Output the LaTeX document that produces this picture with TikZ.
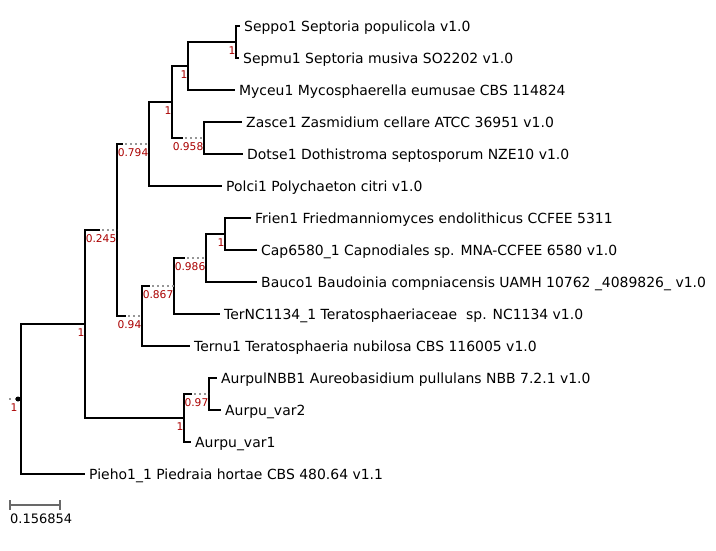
\documentclass[tikz,border=0pt]{standalone}
\usepackage{fontspec}
\setmainfont{DejaVu Sans}
\definecolor{white}{RGB}{255,255,255}
\definecolor{black}{RGB}{0,0,0}
\definecolor{support_red}{RGB}{170,0,0}
\definecolor{guide_gray}{RGB}{150,150,150}
\definecolor{bar_gray}{RGB}{105,105,105}

\begin{document}
\begin{tikzpicture}[x=1pt,y=-1pt,
	leaf/.style={anchor=west,inner xsep=4pt,inner ysep=0pt,text height=10.1pt,text depth=0pt,font=\fontsize{13.95}{16}\selectfont},
	supp/.style={anchor=north east,inner sep=0pt,text height=7.8pt,text depth=0pt,yshift=-4pt,xshift=-0.5pt,text=support_red,font=\fontsize{10.67}{12}\selectfont},
	branch/.style={black,line width=2pt},
	guide/.style={guide_gray,line width=2pt,dash pattern=on 2pt off 3pt,dash phase=3pt},
	scalebar/.style={bar_gray,line width=1.5pt}]
	\useasboundingbox[fill=white] (0,0) rectangle (716,550);

	% inner nodes
	\coordinate (r) at (21,399);
	\coordinate (rdot) at (18,399);
	\coordinate (rtip) at (9,399);
	\coordinate (nA) at (85,324);
	\coordinate (nB) at (117,230);
	\coordinate (nC) at (149,144);
	\coordinate (nD) at (172,102);
	\coordinate (nE) at (188,66);
	\coordinate (nF) at (236,42);
	\coordinate (nG) at (204,138);
	\coordinate (nH) at (142,316);
	\coordinate (nI) at (174,286);
	\coordinate (nJ) at (206,258);
	\coordinate (nK) at (225,234);
	\coordinate (nL) at (184,418);
	\coordinate (nM) at (209,394);

	% where the branch stops and the guide starts
	\coordinate (bB) at (100,230);
	\coordinate (bC) at (123,144);
	\coordinate (bG) at (183,138);
	\coordinate (bH) at (126,316);
	\coordinate (bI) at (150,286);
	\coordinate (bJ) at (185,258);
	\coordinate (bM) at (192,394);

	% leaves
	\node[leaf] (seppo) at (240,26) {Seppo1 Septoria populicola v1.0};
	\node[leaf] (sepmu) at (239,58) {Sepmu1 Septoria musiva SO2202 v1.0};
	\node[leaf] (myceu) at (235,90) {Myceu1 Mycosphaerella eumusae CBS 114824};
	\node[leaf] (zasce) at (242,122) {Zasce1 Zasmidium cellare ATCC 36951 v1.0};
	\node[leaf] (dotse) at (243,154) {Dotse1 Dothistroma septosporum NZE10 v1.0};
	\node[leaf] (polci) at (222,186) {Polci1 Polychaeton citri v1.0};
	\node[leaf] (frien) at (251,218) {Frien1 Friedmanniomyces endolithicus CCFEE 5311};
	\node[leaf] (cap) at (257,250) {Cap6580\_1 Capnodiales sp. MNA-CCFEE 6580 v1.0};
	\node[leaf] (bauco) at (257,282) {Bauco1 Baudoinia compniacensis UAMH 10762 \_4089826\_ v1.0};
	\node[leaf] (ternc) at (220,314) {TerNC1134\_1 Teratosphaeriaceae\ \ sp. NC1134 v1.0};
	\node[leaf] (ternu) at (190,346) {Ternu1 Teratosphaeria nubilosa CBS 116005 v1.0};
	\node[leaf] (aurpul) at (217,378) {AurpulNBB1 Aureobasidium pullulans NBB 7.2.1 v1.0};
	\node[leaf] (aurv2) at (221,410) {Aurpu\_var2};
	\node[leaf] (aurv1) at (191,442) {Aurpu\_var1};
	\node[leaf] (pieho) at (85,474) {Pieho1\_1 Piedraia hortae CBS 480.64 v1.1};

	\foreach \p/\c in {r/nA,r/pieho,nA/bB,nA/nL,nB/bC,nB/bH,nC/nD,nC/polci,nD/nE,nD/bG,nE/nF,nE/myceu,nF/seppo,nF/sepmu,nG/zasce,nG/dotse,nH/bI,nH/ternu,nI/bJ,nI/ternc,nJ/nK,nJ/bauco,nK/frien,nK/cap,nL/bM,nL/aurv1,nM/aurpul,nM/aurv2}
		\draw[branch] (\p) |- (\c);
	\foreach \x/\y in {bB/nB,bC/nC,bG/nG,bH/nH,bI/nI,bJ/nJ,bM/nM}
		\draw[guide] (\x) -- (\y);
	\draw[guide,dash pattern=on 2pt off 4pt,dash phase=0pt] (rtip) -- (rdot);
	\fill[black] (rdot) circle (2.5pt);

	% support values
	\node[supp] (s0) at (rdot) {1};
	\node[supp] (sA) at (nA) {1};
	\node[supp] (sB) at (nB) {0.245};
	\node[supp] (sC) at (nC) {0.794};
	\node[supp] (sD) at (nD) {1};
	\node[supp] (sE) at (nE) {1};
	\node[supp] (sF) at (nF) {1};
	\node[supp] (sG) at (nG) {0.958};
	\node[supp] (sH) at (nH) {0.94};
	\node[supp] (sI) at (nI) {0.867};
	\node[supp] (sJ) at (nJ) {0.986};
	\node[supp] (sK) at (nK) {1};
	\node[supp] (sL) at (nL) {1};
	\node[supp] (sM) at (nM) {0.97};

	% scale
	\coordinate (sbl) at (10,505);
	\coordinate (sbr) at (60,505);
	\draw[scalebar] (sbl) -- (sbr);
	\draw[scalebar] ([yshift=5pt]sbl) -- ([yshift=-5pt]sbl);
	\draw[scalebar] ([yshift=5pt]sbr) -- ([yshift=-5pt]sbr);
	\node[anchor=west,inner sep=0pt,text height=9.5pt,text depth=0pt,font=\fontsize{13}{15}\selectfont] (sblab) at (10,518.5) {0.156854};
\end{tikzpicture}
\end{document}
